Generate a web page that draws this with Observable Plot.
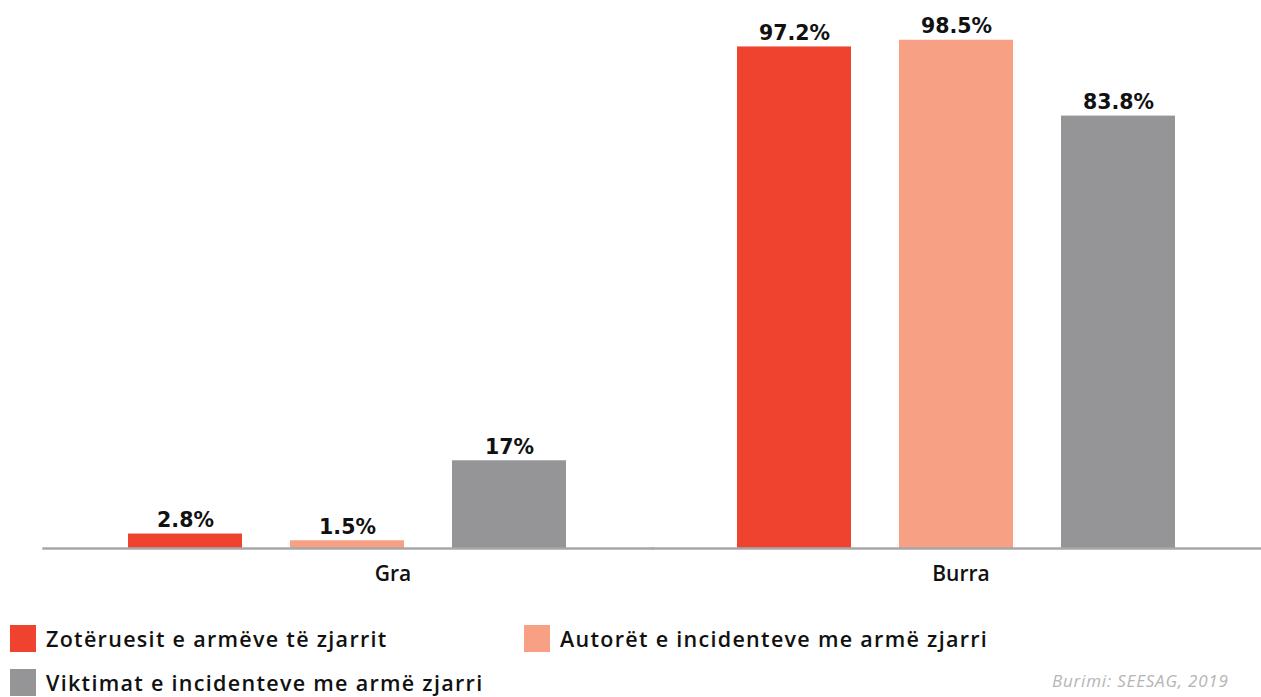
<!DOCTYPE html>
<html>
<head>
<meta charset="utf-8">
<script src="https://cdn.jsdelivr.net/npm/d3@7"></script>
<script src="https://cdn.jsdelivr.net/npm/@observablehq/plot@0.6"></script>
<style>
  html, body { margin: 0; padding: 0; background: #fff; overflow: hidden; }
  body { width: 1261px; height: 697px; position: relative; font-family: "Open Sans", sans-serif; }
  #legend { position: absolute; left: 10px; top: 625px; width: 1251px; display: grid; grid-template-columns: 514px 600px; row-gap: 17px; }
  .item { display: flex; align-items: center; height: 27px; }
  .sw { width: 26px; height: 27px; flex: none; margin-right: 10px; }
  .lab { font-size: 21.5px; font-weight: 600; letter-spacing: 1.3px; color: #111; white-space: nowrap; }
  #source { position: absolute; left: 1052px; top: 670px; font-size: 17px; line-height: 22px; font-style: italic; color: #b5b5b5; white-space: nowrap; letter-spacing: 0.8px; }
</style>
</head>
<body>
<div id="chart"></div>
<div id="legend"></div>
<div id="source">Burimi: SEESAG, 2019</div>
<script>
const groups = ["Gra", "Burra"];
const series = [
  "Zotëruesit e armëve të zjarrit",
  "Autorët e incidenteve me armë zjarri",
  "Viktimat e incidenteve me armë zjarri"
];
const colors = ["#ef4330", "#f8a083", "#959598"];
const graValues = [2.8, 1.5, 17];
const burraValues = [97.2, 98.5, 83.8];

const data = [];
series.forEach((s, i) => data.push({group: groups[0], series: s, value: graValues[i]}));
series.forEach((s, i) => data.push({group: groups[1], series: s, value: burraValues[i]}));

const axisStyle = {anchor: "bottom", tickSize: 0, tickPadding: 18, fontSize: 21, fontWeight: 600,
  letterSpacing: 1, label: null};

const chart = Plot.plot({
  width: 1261,
  height: 600,
  marginLeft: 42,
  marginRight: 0,
  marginTop: 32,
  marginBottom: 52,
  fx: {domain: groups, paddingInner: 0, paddingOuter: 0, label: null, axis: null},
  x: {domain: series, paddingInner: 0.2945, paddingOuter: 0.5169, axis: null},
  y: {domain: [0, 100], axis: null},
  color: {domain: series, range: colors},
  style: {fontFamily: "Open Sans, sans-serif", color: "#111"},
  marks: [
    Plot.barY(data, {fx: "group", x: "series", y: "value", fill: "series"}),
    Plot.frame({anchor: "bottom", stroke: "#a7a7aa", strokeWidth: 2.5}),
    Plot.text(data, {fx: "group", x: "series", y: "value", text: d => d.value + "%",
      dy: -7, lineAnchor: "bottom", fontWeight: "bold", fontSize: 20.5,
      fontFamily: "DejaVu Sans, sans-serif", fill: "#111"}),
    Plot.axisFx({...axisStyle, ticks: [groups[0]], dx: 45}),
    Plot.axisFx({...axisStyle, ticks: [groups[1]], dx: 4})
  ]
});
document.getElementById("chart").appendChild(chart);

const legend = document.getElementById("legend");
series.forEach((s, i) => {
  const item = document.createElement("div");
  item.className = "item";
  const sw = document.createElement("div");
  sw.className = "sw";
  sw.style.background = colors[i];
  const lab = document.createElement("span");
  lab.className = "lab";
  lab.textContent = s;
  item.appendChild(sw);
  item.appendChild(lab);
  legend.appendChild(item);
});
</script>
</body>
</html>
